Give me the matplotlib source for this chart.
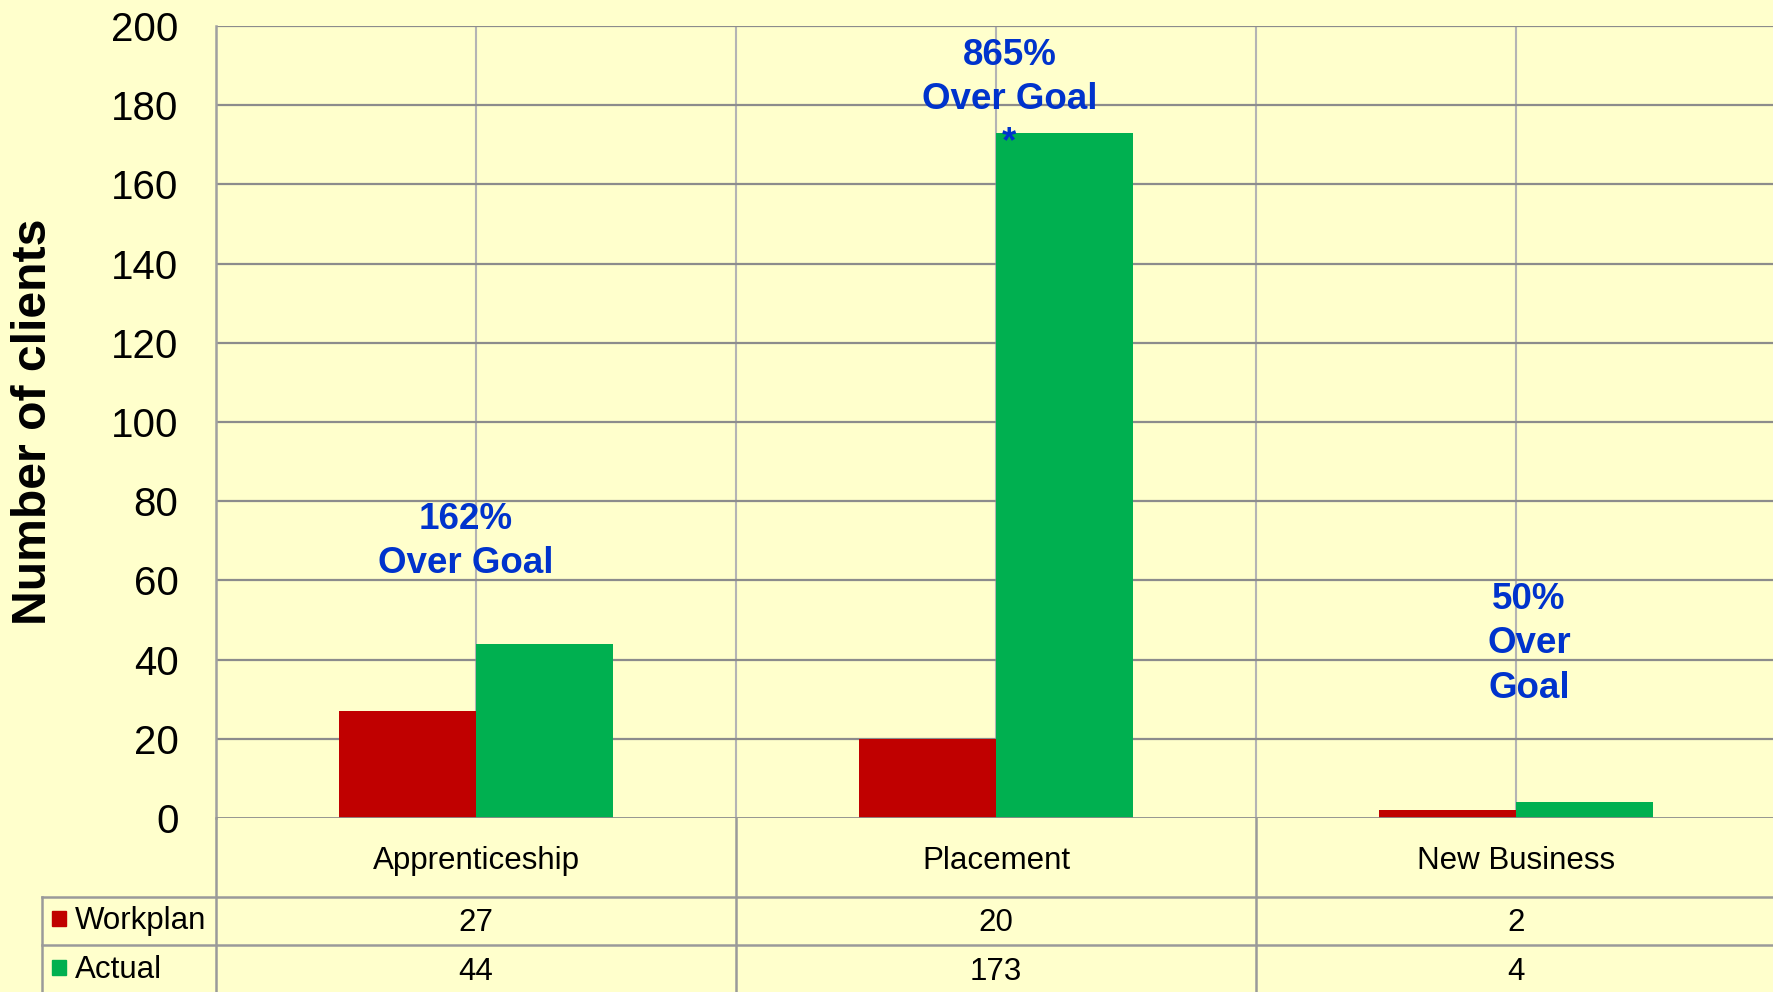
import matplotlib
matplotlib.use("Agg")
import matplotlib.pyplot as plt
from matplotlib.patches import Rectangle

categories = ["Apprenticeship", "Placement", "New Business"]
series_names = ["Workplan", "Actual"]
workplan = [27, 20, 2]
actual = [44, 173, 4]
yticks = [0, 20, 40, 60, 80, 100, 120, 140, 160, 180, 200]
notes = ["162%\nOver Goal", "865%\nOver Goal", "50%\nOver\nGoal"]

RED = "#C00000"
GREEN = "#00B050"
BG = "#FFFFCC"
BLUE = "#0033CC"
HGRID = "#8C8C8C"
VGRID = "#B4B4B4"

plt.rcParams['font.family'] = ['Liberation Sans', 'DejaVu Sans']

W, H = 1773, 992
fig = plt.figure(figsize=(W / 100, H / 100), dpi=100, facecolor=BG)

left_px, right_px, top_px, zero_px = 216, 1776, 26, 818
ax = fig.add_axes([left_px / W, (H - zero_px) / H, (right_px - left_px) / W, (zero_px - top_px) / H])
ax.set_facecolor(BG)
ax.set_xlim(-0.5, 2.5)
ax.set_ylim(0, 200)

x = list(range(len(categories)))
bw = 0.264
ax.bar([i - bw / 2 for i in x], workplan, width=bw, color=RED, zorder=3)
ax.bar([i + bw / 2 for i in x], actual, width=bw, color=GREEN, zorder=3)

for yv in yticks[1:]:
    ax.axhline(yv, color=HGRID, lw=1.6, zorder=1)
ax.axhline(0, color=HGRID, lw=2.0, zorder=4)
for xv in [0, 0.5, 1, 1.5, 2]:
    ax.axvline(xv, color=VGRID, lw=1.5, zorder=0.5)

for s in ["top", "right", "bottom"]:
    ax.spines[s].set_visible(False)
ax.spines["left"].set_color("#A0A0A0")
ax.spines["left"].set_linewidth(1.8)

ax.set_yticks(yticks)
ax.set_yticklabels([str(v) for v in yticks], fontsize=29)
ax.tick_params(axis='y', length=0, pad=27)
ax.set_xticks([])

fig.text(34 / W, 1 - 422 / H, "Number of clients", rotation=90, fontsize=34.7,
         fontweight='bold', ha='center', va='center')

# annotations
LS = 1.36
ax.text(-0.019, 69.8, notes[0], color=BLUE, fontsize=26.5, fontweight='bold',
        ha='center', va='center', linespacing=LS, zorder=5)
ax.text(1.027, 187.0, notes[1], color=BLUE, fontsize=26.5, fontweight='bold',
        ha='center', va='center', linespacing=LS, zorder=5)
ax.text(1.025, 168.2, "*", color=BLUE, fontsize=26.5, fontweight='bold',
        ha='center', va='baseline', zorder=5)
ax.text(2.025, 44.0, notes[2], color=BLUE, fontsize=26.5, fontweight='bold',
        ha='center', va='center', linespacing=LS, zorder=5)

# data table below the axes
tax = fig.add_axes([left_px / W, 0, (right_px - left_px) / W, (H - zero_px) / H], sharex=ax)
tax.set_ylim(H - zero_px, 0)
tax.axis('off')
tax.patch.set_alpha(0)

tbl_left = (42 - left_px) / 520 - 0.5
row1, row2, bottom = 79, 127, H - zero_px
LC = "#9A9A9A"
for yv in [row1, row2]:
    tax.plot([tbl_left, 2.5], [yv, yv], color=LC, lw=1.8, clip_on=False)
for xv in [-0.5, 0.5, 1.5]:
    tax.plot([xv, xv], [0, bottom], color=LC, lw=1.8, clip_on=False)
tax.plot([tbl_left, tbl_left], [row1, bottom], color=LC, lw=1.8, clip_on=False)

for i, c in enumerate(categories):
    tax.text(i, 43, c, fontsize=22.5, ha='center', va='center')
    tax.text(i, 105, str(workplan[i]), fontsize=22.5, ha='center', va='center')
    tax.text(i, 154, str(actual[i]), fontsize=22.5, ha='center', va='center')

sq_x = (52 - left_px) / 520 - 0.5
sq_w = 14 / 520
for name, col, yc in [(series_names[0], RED, 101), (series_names[1], GREEN, 150)]:
    tax.add_patch(Rectangle((sq_x, yc - 8), sq_w, 15, color=col, clip_on=False))
    tax.text((75 - left_px) / 520 - 0.5, yc + 2, name, fontsize=22.5, ha='left', va='center',
             clip_on=False)

fig.savefig("out.png", dpi=100, facecolor=BG)
